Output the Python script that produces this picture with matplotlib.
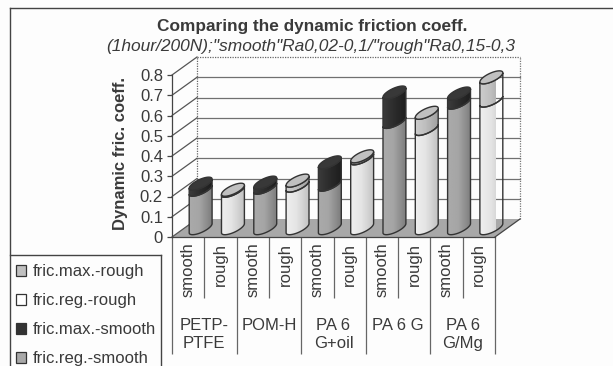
import numpy as np
import matplotlib
matplotlib.use('Agg')
import matplotlib.pyplot as plt
from matplotlib.patches import Polygon, Patch
from matplotlib.lines import Line2D

plt.rcParams['font.family'] = ['Liberation Sans', 'DejaVu Sans']

# data
materials = ['PETP-\nPTFE', 'POM-H', 'PA 6\nG+oil', 'PA 6 G', 'PA 6\nG/Mg']
surfaces = ['smooth', 'rough'] * 5
fric_reg = [0.19, 0.185, 0.20, 0.21, 0.215, 0.345, 0.525, 0.49, 0.62, 0.63]
fric_max = [0.22, 0.19, 0.225, 0.235, 0.325, 0.355, 0.67, 0.57, 0.665, 0.745]
yticks = [0, 0.1, 0.2, 0.3, 0.4, 0.5, 0.6, 0.7, 0.8]
ytick_labels = ['0', '0.1', '0.2', '0.3', '0.4', '0.5', '0.6', '0.7', '0.8']
legend_labels = ['fric.max.-rough', 'fric.reg.-rough', 'fric.max.-smooth', 'fric.reg.-smooth']

W, H = 613, 366
TXT = '#3a3a3a'
PX_X = 32.3    # pixels per category
PX_Y = 202.5   # pixels per unit of friction
DX = 25 / PX_X
DY = 18 / PX_Y

fig = plt.figure(figsize=(W / 100, H / 100), dpi=100, facecolor='#fdfdfd')
ax = fig.add_axes([172 / W, (H - 237) / H, 10 * PX_X / W, 0.8 * PX_Y / H])
ax.patch.set_visible(False)


def fx(px):
    return px / W


def fy(px):
    return 1 - px / H


# floor and walls
ax.add_patch(Polygon([(0, 0), (10, 0), (10 + DX, DY), (DX, DY)], fc='#a8a8a8', ec='none', zorder=1, clip_on=False))
for v in yticks:
    ax.plot([0, DX], [v, v + DY], color='#555555', lw=0.9, clip_on=False, zorder=2)
    if v > 0 and v < 0.8:
        ax.plot([DX, 10 + DX], [v + DY, v + DY], color='#707070', lw=0.9, clip_on=False, zorder=2)
ax.plot([DX, DX], [DY, 0.8 + DY], color='#666666', lw=0.9, ls=(0, (1, 1)), clip_on=False, zorder=2)
ax.plot([10 + DX, 10 + DX], [DY, 0.8 + DY], color='#777777', lw=0.9, ls=(0, (1, 1)), clip_on=False, zorder=2)
ax.plot([DX, 10 + DX], [0.8 + DY, 0.8 + DY], color='#666666', lw=0.9, ls=(0, (1, 1)), clip_on=False, zorder=2)
ax.plot([10, 10 + DX], [0, DY], color='#444444', lw=0.9, clip_on=False, zorder=2)

# cylinders
RX = 8.1 / PX_X
RDX = 8.1 / PX_X
RDY = 6.5 / PX_Y
BASE = 8.8 / PX_Y
t0 = np.arctan2(RDX, RX)


def ring(cx, y, ts):
    return np.column_stack([cx + RX * np.cos(ts) + RDX * np.sin(ts), y + RDY * np.sin(ts)])


def segment(cx, v0, v1, grad):
    ts = np.linspace(t0, t0 - np.pi, 40)
    low = ring(cx, BASE + v0, ts)
    up = ring(cx, BASE + v1, ts[::-1])
    half = np.hypot(RX, RDX)
    img = np.interp(np.linspace(0, 1, 60), [0, 0.45, 1], grad).reshape(1, -1)
    im = ax.imshow(img, cmap='gray', vmin=0, vmax=255, aspect='auto', zorder=4,
                   extent=[cx - half, cx + half, BASE + v0 - 0.1, BASE + v1 + 0.1])
    im.set_clip_box(None)
    im.set_clip_path(Polygon(np.vstack([low, up]), transform=ax.transData))
    ax.add_patch(Polygon(np.vstack([low, up]), fc='none', ec='#333333', lw=1.0, zorder=5, clip_on=False))


for i in range(10):
    cx = i + 0.5 + DX / 2
    smooth = surfaces[i] == 'smooth'
    reg_grad = (170, 165, 125) if smooth else (238, 228, 195)
    max_grad = (60, 45, 30) if smooth else (205, 190, 160)
    segment(cx, 0, fric_reg[i], reg_grad)
    segment(cx, fric_reg[i], fric_max[i], max_grad)
    cap = ring(cx, BASE + fric_max[i], np.linspace(0, 2 * np.pi, 60))
    ax.add_patch(Polygon(cap, fc='#383838' if smooth else '#c0c0c0', ec='#333333', lw=1.0, zorder=6, clip_on=False))

# axes
ax.set_xlim(0, 10)
ax.set_ylim(0, 0.8)
for s in ['top', 'right']:
    ax.spines[s].set_visible(False)
for s in ['left', 'bottom']:
    ax.spines[s].set_color('#444444')
    ax.spines[s].set_linewidth(0.9)
ax.set_yticks(yticks)
ax.set_yticklabels(ytick_labels, fontsize=12, color=TXT)
ax.tick_params(axis='y', length=3.5, width=0.9, color='#444444', pad=3)
ax.set_xticks(np.arange(0, 11, 2))
ax.set_xticks(np.arange(1, 10, 2), minor=True)
ax.set_xticklabels([])
ax.tick_params(axis='x', which='major', length=84, width=0.9, color='#666666')
ax.tick_params(axis='x', which='minor', length=44, width=0.9, color='#666666')

for i, s in enumerate(surfaces):
    ax.annotate(s, (i + 0.5, 0), xytext=(0, -4), textcoords='offset points', rotation=90,
                ha='center', va='top', fontsize=12, color=TXT, annotation_clip=False)
for i, m in enumerate(materials):
    ax.annotate(m, (2 * i + 1, 0), xytext=(0, -58), textcoords='offset points', ha='center',
                va='top', fontsize=12, color=TXT, linespacing=1.28, annotation_clip=False)

fig.text(fx(120), fy(154), 'Dynamic fric. coeff.', rotation=90, ha='center', va='center',
         fontsize=12, fontweight='bold', color=TXT)
fig.text(fx(312), fy(26), 'Comparing the dynamic friction coeff.', ha='center', va='center',
         fontsize=12.4, fontweight='bold', color=TXT)
fig.text(fx(311), fy(47), '(1hour/200N);"smooth"Ra0,02-0,1/"rough"Ra0,15-0,3', ha='center',
         va='center', fontsize=12.5, style='italic', color=TXT)

# frames
frame = dict(color='#444444', lw=1.0, transform=fig.transFigure)
fig.add_artist(Line2D([fx(10), fx(10)], [0, fy(8)], **frame))
fig.add_artist(Line2D([fx(10), 1], [fy(8), fy(8)], **frame))
fig.add_artist(Line2D([fx(10), fx(161)], [fy(255), fy(255)], **frame))
fig.add_artist(Line2D([fx(161), fx(161)], [0, fy(255)], **frame))

# legend
handles = [Patch(fc='#c0c0c0', ec='#333333', lw=0.9), Patch(fc='#ffffff', ec='#333333', lw=0.9),
           Patch(fc='#333333', ec='#333333', lw=0.9), Patch(fc='#a8a8a8', ec='#333333', lw=0.9)]
fig.legend(handles, legend_labels, loc='upper left', bbox_to_anchor=(fx(12), fy(260)), frameon=False,
           fontsize=12, labelcolor=TXT, handlelength=0.62, handleheight=0.62, handletextpad=0.35,
           labelspacing=0.84, borderaxespad=0, borderpad=0.25)

fig.savefig('out.png', dpi=100, facecolor=fig.get_facecolor())
